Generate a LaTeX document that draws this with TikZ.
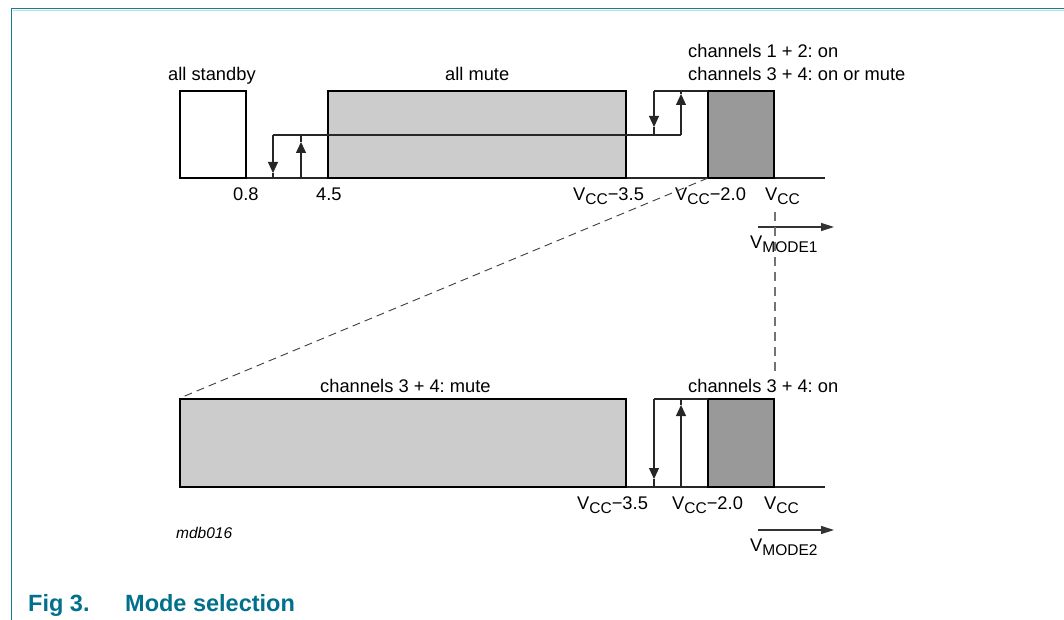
\documentclass[tikz,border=0pt]{standalone}
\usepackage{fontspec}
\setmainfont{Liberation Sans}
\usetikzlibrary{arrows.meta}
\frenchspacing
\definecolor{frameteal}{RGB}{20,125,150}
\definecolor{framelight}{RGB}{175,222,228}
\definecolor{captionteal}{RGB}{0,112,140}
\definecolor{mutefill}{RGB}{204,204,204}
\definecolor{onfill}{RGB}{153,153,153}
\newcommand\vsub[1]{\raisebox{-4pt}{\fontsize{15.5}{16}\selectfont #1}}
\tikzset{
  lbl/.style={anchor=base west, inner sep=0pt, font=\fontsize{18.3}{22}\selectfont},
  boxline/.style={draw=black, line width=1.6pt},
  axis/.style={draw=black!85, line width=1.1pt},
  hyst/.style={draw=black!85, line width=1.1pt},
  hhead/.style={draw=black!85, line width=1.1pt, -{Triangle[length=11pt,width=10pt]}},
  modearrow/.style={draw=black!80, line width=1.2pt, -{Triangle[length=13pt,width=8pt]}},
  zoomdash/.style={draw=black!75, line width=0.9pt, dash pattern=on 8pt off 5pt},
  vdash/.style={draw=black!55, line width=1.2pt, dash pattern=on 9pt off 6pt},
}
\begin{document}
\begin{tikzpicture}[x=1pt,y=-1pt]
\useasboundingbox (0,0) rectangle (1064,620);
% frame
\draw[framelight, line width=1.3pt] (12.5,10.6) -- (1064,10.6);
\draw[frameteal, line width=1.6pt] (11.5,8.6) -- (1064,8.6);
\draw[frameteal, line width=1.6pt] (11.5,7.8) -- (11.5,620);

% ---------- top diagram ----------
\coordinate (t0) at (180,178);
\coordinate (t1) at (825,178);
\draw[axis] (t0) -- (t1);
\draw[boxline] (180,91) rectangle (246,178);
\draw[boxline, fill=mutefill] (328,91) rectangle (626,178);
\draw[boxline, fill=onfill] (708,91) rectangle (774,178);
% hysteresis low
\draw[hyst] (273,135) -- (681,135);
\draw[hhead] (273,135) -- (273,173);
\draw[hyst] (273,173) -- (273,178);
\draw[hhead] (301,178) -- (301,142);
\draw[hyst] (301,142) -- (301,135);
% hysteresis high
\draw[hyst] (654,91) -- (708,91);
\draw[hhead] (654,91) -- (654,127);
\draw[hyst] (654,127) -- (654,135);
\draw[hhead] (681,135) -- (681,94);
\draw[hyst] (681,94) -- (681,91);
% labels
\node[lbl] (lsb) at (168,81) {all standby};
\node[lbl] (lam) at (445,81) {all mute};
\node[lbl] (lc12) at (688,58) {channels 1 + 2: on};
\node[lbl] (lc34) at (688,81) {channels 3 + 4: on or mute};
\node[lbl] (l08) at (233,201) {0.8};
\node[lbl] (l45) at (316,201) {4.5};
\node[lbl] (lv35) at (573,201) {V\vsub{CC}−3.5};
\node[lbl] (lv20) at (675,201) {V\vsub{CC}−2.0};
\node[lbl] (lvcc) at (765,201) {V\vsub{CC}};
\coordinate (m1a) at (758,227);
\coordinate (m1b) at (834,227);
\draw[modearrow] (m1a) -- (m1b);
\node[lbl] (lm1) at (750,248) {V\vsub{MODE1}};

% ---------- connecting dashed lines ----------
\coordinate (zA) at (708,178);
\coordinate (zB) at (180,398);
\draw[zoomdash] (zA) -- (zB);
\coordinate (vA) at (775,212);
\coordinate (vB) at (775,374);
\draw[vdash] (vA) -- (vB);

% ---------- bottom diagram ----------
\draw[axis] (180,487) -- (825,487);
\draw[boxline, fill=mutefill] (180,399) rectangle (626,487);
\draw[boxline, fill=onfill] (708,399) rectangle (774,487);
\draw[hyst] (654,399) -- (708,399);
\draw[hhead] (654,399) -- (654,479);
\draw[hyst] (654,479) -- (654,487);
\draw[hhead] (681,487) -- (681,405);
\draw[hyst] (681,405) -- (681,399);
\node[lbl] (lc34m) at (320,392) {channels 3 + 4: mute};
\node[lbl] (lc34o) at (688,392) {channels 3 + 4: on};
\node[lbl] (bv35) at (577,509) {V\vsub{CC}−3.5};
\node[lbl] (bv20) at (672,509) {V\vsub{CC}−2.0};
\node[lbl] (bvcc) at (764,509) {V\vsub{CC}};
\coordinate (m2a) at (758,530);
\coordinate (m2b) at (834,530);
\draw[modearrow] (m2a) -- (m2b);
\node[lbl] (lm2) at (750,551) {V\vsub{MODE2}};

\node[anchor=base west, inner sep=0pt, font=\fontsize{15.5}{18}\selectfont\itshape] (code) at (176,538) {mdb016};

% caption
\node[anchor=base west, inner sep=0pt, text=captionteal, font=\fontsize{23.5}{28}\selectfont\bfseries] (fig) at (28,611) {Fig 3.};
\node[anchor=base west, inner sep=0pt, text=captionteal, font=\fontsize{23.5}{28}\selectfont\bfseries] (title) at (125,611) {Mode selection};
\end{tikzpicture}
\end{document}
